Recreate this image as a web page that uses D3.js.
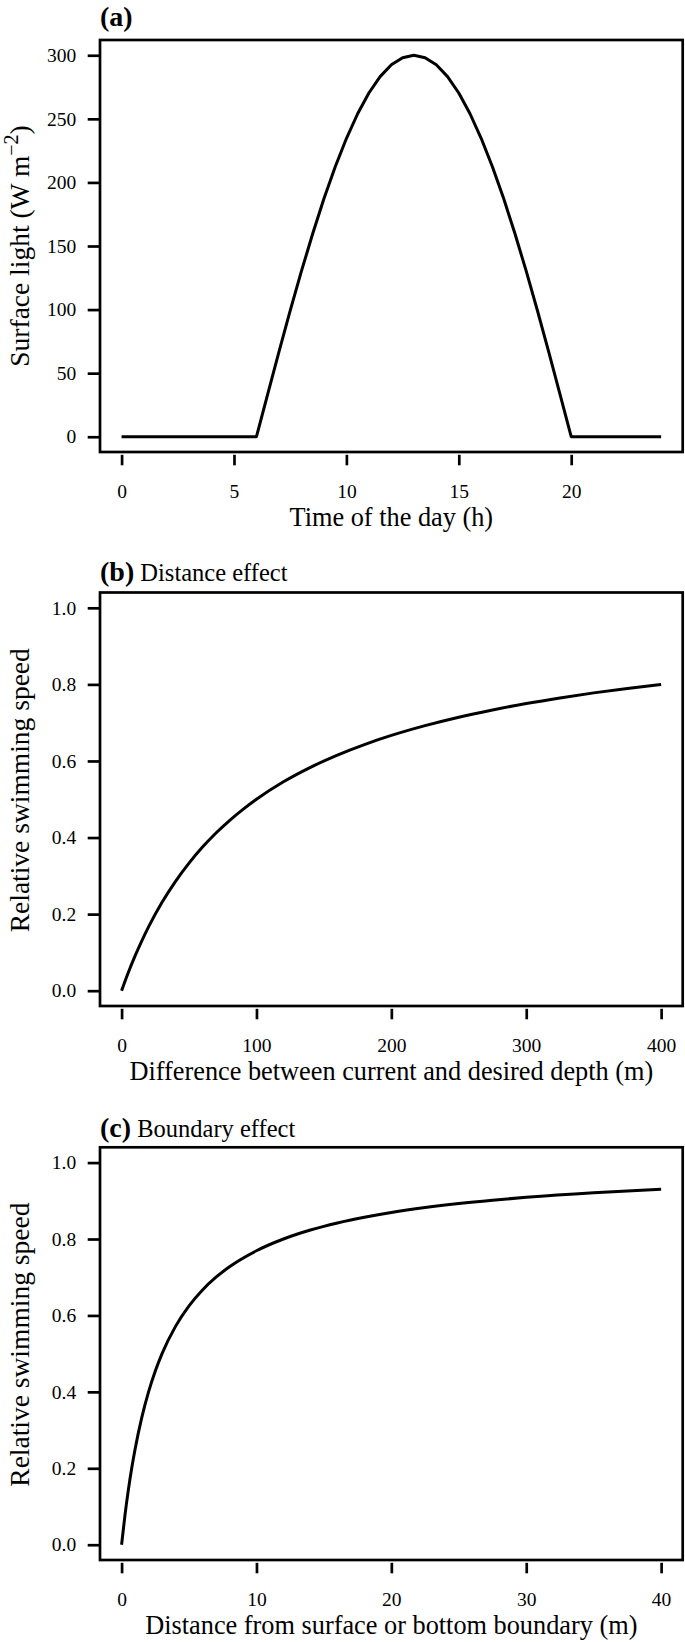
<!DOCTYPE html>
<html>
<head>
<meta charset="utf-8">
<script src="https://cdn.jsdelivr.net/npm/d3@7"></script>
<style>
  html, body { margin: 0; padding: 0; background: #fff; }
  svg { display: block; }
  svg text { font-family: "Liberation Serif", "Times New Roman", serif !important; fill: #000; }
</style>
</head>
<body>
<svg id="chart" width="685" height="1642"></svg>
<script>
// ---------------- Data ----------------
// Panel (a): surface light over the day
const hoursA = [0, 6, 6.5, 7, 7.5, 8, 8.5, 9, 9.5, 10, 10.5, 11, 11.5, 12, 12.5, 13,
                13.5, 14, 14.5, 15, 15.5, 16, 16.5, 17, 17.5, 18, 18.5, 19, 19.5, 20, 24];
const lightA = [0, 0, 33.6, 66.8, 99.1, 130.2, 159.6, 187.1, 212.1, 234.5, 254.0, 270.3, 283.2, 292.5, 298.1, 300,
                298.1, 292.5, 283.2, 270.3, 254.0, 234.5, 212.1, 187.1, 159.6, 130.2, 99.1, 66.8, 33.6, 0, 0];
const xTicksA = [0, 5, 10, 15, 20];
const yTicksA = [0, 50, 100, 150, 200, 250, 300];

// Panel (b): distance effect
const distB = [0, 2, 5, 10, 15, 20, 30, 40, 50, 60, 70, 80, 90, 100, 120, 140, 160, 180, 200,
               225, 250, 275, 300, 325, 350, 375, 400];
const speedB = [0, 0.0196, 0.0476, 0.0909, 0.1304, 0.1667, 0.2308, 0.2857, 0.3333, 0.375, 0.4118,
                0.4444, 0.4737, 0.5, 0.5455, 0.5833, 0.6154, 0.6429, 0.6667, 0.6923, 0.7143, 0.7333,
                0.75, 0.7647, 0.7778, 0.7895, 0.8];
const xTicksB = [0, 100, 200, 300, 400];

// Panel (c): boundary effect
const distC = [0, 0.25, 0.5, 0.75, 1, 1.5, 2, 2.5, 3, 4, 5, 6, 7, 8, 10, 12, 14, 16, 18, 20,
               22.5, 25, 27.5, 30, 35, 40];
const speedC = [0, 0.0769, 0.1429, 0.2, 0.25, 0.3333, 0.4, 0.4545, 0.5, 0.5714, 0.625, 0.6667,
                0.7, 0.7273, 0.7692, 0.8, 0.8235, 0.8421, 0.8571, 0.8696, 0.8824, 0.8929, 0.9016,
                0.9091, 0.9211, 0.9302];
const xTicksC = [0, 10, 20, 30, 40];

const yTicksRel = [0, 0.2, 0.4, 0.6, 0.8, 1.0];

// ---------------- Layout ----------------
const FONT = '"Liberation Serif", "Times New Roman", serif';
const svg = d3.select("#chart");
const boxLeft = 100, boxRight = 682.7;
const LW = 2.7;

const panels = [
  { tag: "(a)", title: "", top: 40, bottom: 452, titleY: 25.5, ylabShift: 0,
    xs: hoursA, ys: lightA, xMax: 24, yMax: 300, xTicks: xTicksA, yTicks: yTicksA,
    yFmt: d3.format("d"), xlab: "Time of the day (h)", ylab: "surface",
    curve: d3.curveLinear },
  { tag: "(b)", title: " Distance effect", top: 592.5, bottom: 1006, titleY: 580.7, ylabShift: -9,
    xs: distB, ys: speedB, xMax: 400, yMax: 1, xTicks: xTicksB, yTicks: yTicksRel,
    yFmt: d3.format(".1f"), xlab: "Difference between current and desired depth (m)",
    ylab: "Relative swimming speed", curve: d3.curveMonotoneX },
  { tag: "(c)", title: " Boundary effect", top: 1147.3, bottom: 1560, titleY: 1136.7, ylabShift: -9,
    xs: distC, ys: speedC, xMax: 40, yMax: 1, xTicks: xTicksC, yTicks: yTicksRel,
    yFmt: d3.format(".1f"), xlab: "Distance from surface or bottom boundary (m)",
    ylab: "Relative swimming speed", curve: d3.curveMonotoneX }
];

panels.forEach(p => {
  const g = svg.append("g");
  const xPad = p.xMax * 0.04, yPad = p.yMax * 0.04;
  const x = d3.scaleLinear().domain([-xPad, p.xMax + xPad]).range([boxLeft, boxRight]);
  const y = d3.scaleLinear().domain([-yPad, p.yMax + yPad]).range([p.bottom, p.top]);

  // curve
  const pts = p.xs.map((v, i) => [v, p.ys[i]]);
  g.append("path")
    .datum(pts)
    .attr("fill", "none")
    .attr("stroke", "#000")
    .attr("stroke-width", 3)
    .attr("stroke-linejoin", "round")
    .attr("d", d3.line().x(d => x(d[0])).y(d => y(d[1])).curve(p.curve));

  // box
  g.append("rect")
    .attr("x", boxLeft).attr("y", p.top)
    .attr("width", boxRight - boxLeft).attr("height", p.bottom - p.top)
    .attr("fill", "none").attr("stroke", "#000").attr("stroke-width", LW);

  // y axis
  const yAxis = d3.axisLeft(y).tickValues(p.yTicks).tickFormat(p.yFmt)
    .tickSize(12.3).tickPadding(11.5);
  const ya = g.append("g").attr("transform", `translate(${boxLeft},0)`).call(yAxis)
    .attr("font-family", null).attr("font-size", null);
  ya.select(".domain").remove();
  ya.selectAll(".tick line").attr("stroke", "#000").attr("stroke-width", LW);
  ya.selectAll(".tick text")
    .style("font-family", FONT).style("font-size", "19.5px").attr("fill", "#000");

  // x axis (ticks slightly detached from box, as in reference)
  const xAxis = d3.axisBottom(x).tickValues(p.xTicks).tickFormat(d3.format("d"))
    .tickSize(10.5).tickPadding(19);
  const xa = g.append("g").attr("transform", `translate(0,${p.bottom + 2.8})`).call(xAxis)
    .attr("font-family", null).attr("font-size", null);
  xa.select(".domain").remove();
  xa.selectAll(".tick line").attr("stroke", "#000").attr("stroke-width", LW);
  xa.selectAll(".tick text")
    .style("font-family", FONT).style("font-size", "19.5px").attr("fill", "#000");

  // x label
  g.append("text")
    .attr("x", (boxLeft + boxRight) / 2)
    .attr("y", p.bottom + 74)
    .attr("text-anchor", "middle")
    .style("font-size", "26.3px")
    .text(p.xlab);

  // y label
  const cy = (p.top + p.bottom) / 2 + p.ylabShift;
  const yl = g.append("text")
    .attr("transform", `translate(28.5,${cy}) rotate(-90)`)
    .attr("text-anchor", "middle")
    .style("font-size", "27.5px");
  if (p.ylab === "surface") {
    yl.append("tspan").text("Surface light (W m");
    yl.append("tspan").attr("dy", -11).style("font-size", "20px").text("\u22122");
    yl.append("tspan").attr("dy", 11).text(")");
  } else {
    yl.text(p.ylab);
  }

  // panel title
  const t = g.append("text").attr("x", boxLeft).attr("y", p.titleY);
  t.append("tspan").style("font-weight", "bold").style("font-size", "28px").text(p.tag);
  if (p.title) t.append("tspan").style("font-size", "24.5px").text(p.title);
});
</script>
</body>
</html>
